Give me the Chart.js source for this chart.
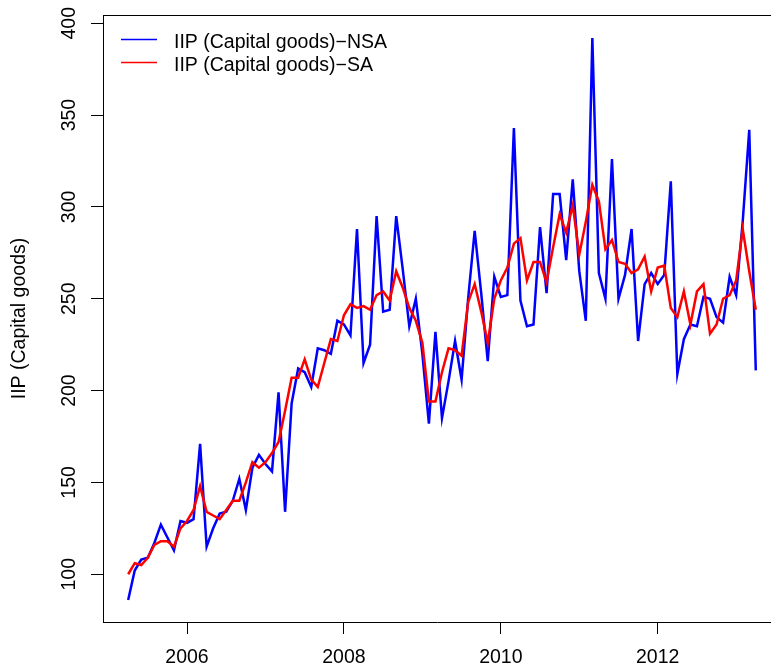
<!DOCTYPE html>
<html>
<head>
<meta charset="utf-8">
<title>IIP (Capital goods)</title>
<script src="https://cdn.jsdelivr.net/npm/chart.js@4.4.1/dist/chart.umd.min.js"></script>
<style>
  html, body { margin: 0; padding: 0; background: #ffffff; overflow: hidden; }
  #wrap { width: 771px; height: 672px; }
</style>
</head>
<body>
<div id="wrap"><canvas id="iipChart" width="771" height="672"></canvas></div>
<script>
// Monthly series, April 2005 .. April 2013
const startYear = 2005
const startMonth = 4

const nsaValues = [
  86, 102, 108, 109, 117, 127, 120, 113, 129, 128, 130, 171,
  115, 125, 133, 134, 140, 152, 135, 158, 165, 160, 156, 199,
  134, 193, 212, 210, 202, 223, 222, 220, 238, 236, 230, 288,
  215, 225, 295, 243, 244, 295, 266, 235, 250, 220, 182, 232,
  185, 205, 227, 206, 250, 287, 253, 216, 262, 251, 252, 343,
  249, 235, 236, 289, 253, 307, 307, 271, 315, 265, 238, 392,
  264, 250, 326, 250, 263, 288, 227, 258, 264, 258, 263, 314,
  209, 228, 236, 235, 251, 250, 240, 237, 262, 252, 292, 342,
  211
]

const saValues = [
  100, 106, 105, 109, 116, 118, 118, 115, 125, 129, 135, 148,
  134, 132, 130, 135, 140, 140, 150, 161, 158, 161, 166, 172,
  189, 207, 207, 217, 206, 202, 215, 228, 227, 241, 247, 245,
  246, 244, 252, 254, 249, 265, 256, 245, 238, 226, 194, 194,
  210, 223, 222, 219, 248, 258, 243, 226, 250, 260, 267, 280,
  283, 260, 270, 270, 259, 278, 296, 286, 301, 274, 292, 312,
  303, 277, 282, 270, 269, 264, 266, 273, 254, 267, 268, 245,
  240, 254, 236, 254, 258, 231, 236, 250, 252, 260, 288, 265,
  244
]

const seriesNames = ["IIP (Capital goods)\u2212NSA", "IIP (Capital goods)\u2212SA"]
const seriesColors = ["#0000ff", "#ff0000"]
const xTicks = [2006, 2008, 2010, 2012]
const yTicks = [100, 150, 200, 250, 300, 350, 400]
const yTitle = "IIP (Capital goods)"

const FONT = "'Liberation Sans', Arial, Helvetica, sans-serif"

// turn a month index into a fractional year, like R's time(ts)
function toPoints(values) {
  return values.map((v, i) => ({ x: startYear + (startMonth - 1 + i) / 12, y: v }))
}

// R style box top + legend in the top-left corner
const boxAndLegend = {
  id: "boxAndLegend",
  afterDraw(chart) {
    const { ctx, chartArea } = chart
    ctx.save()
    ctx.strokeStyle = "#000000"
    ctx.lineWidth = 1
    const top = Math.round(chartArea.top) + 0.5
    ctx.beginPath()
    ctx.moveTo(chartArea.left, top)
    ctx.lineTo(chartArea.right, top)
    ctx.stroke()

    ctx.font = "19.5px " + FONT
    ctx.textBaseline = "alphabetic"
    ctx.textAlign = "left"
    chart.data.datasets.forEach((ds, k) => {
      const y = chartArea.top + 24.5 + k * 23
      ctx.strokeStyle = ds.borderColor
      ctx.lineWidth = 1.3
      ctx.beginPath()
      ctx.moveTo(chartArea.left + 18, y)
      ctx.lineTo(chartArea.left + 54, y)
      ctx.stroke()
      ctx.fillStyle = "#000000"
      ctx.fillText(ds.label, chartArea.left + 71, y + 8)
    })
    ctx.restore()
  }
}

const config = {
  type: "line",
  data: {
    datasets: [
      {
        label: seriesNames[0],
        data: toPoints(nsaValues),
        borderColor: seriesColors[0],
        borderWidth: 2.5,
        pointRadius: 0,
        tension: 0,
        order: 2,
      },
      {
        label: seriesNames[1],
        data: toPoints(saValues),
        borderColor: seriesColors[1],
        borderWidth: 2.5,
        pointRadius: 0,
        tension: 0,
        order: 1,
      },
    ],
  },
  options: {
    responsive: false,
    animation: false,
    layout: { padding: { top: 15, left: 0, right: 0, bottom: 0 } },
    plugins: {
      legend: { display: false },
      tooltip: { enabled: false },
    },
    scales: {
      x: {
        type: "linear",
        min: 2004.929,
        max: 2013.444,
        afterBuildTicks: (scale) => {
          scale.ticks = xTicks.map((v) => ({ value: v }))
        },
        afterFit: (scale) => {
          scale.height = 50
          scale.paddingLeft = 0
          scale.paddingRight = 0
        },
        grid: {
          drawOnChartArea: false,
          drawTicks: true,
          tickLength: 12,
          tickColor: "#000000",
        },
        border: { display: true, color: "#000000", width: 1 },
        ticks: {
          color: "#000000",
          font: { family: FONT, size: 19.5 },
          padding: 12,
          maxRotation: 0,
          autoSkip: false,
          callback: (v) => String(v),
        },
      },
      y: {
        type: "linear",
        min: 74,
        max: 404.5,
        afterBuildTicks: (scale) => {
          scale.ticks = yTicks.map((v) => ({ value: v }))
        },
        afterFit: (scale) => {
          scale.width = 103
          scale.paddingTop = 0
          scale.paddingBottom = 0
        },
        grid: {
          drawOnChartArea: false,
          drawTicks: true,
          tickLength: 12,
          tickColor: "#000000",
        },
        border: { display: true, color: "#000000", width: 1 },
        ticks: {
          color: "#000000",
          font: { family: FONT, size: 19.5 },
          padding: 5,
          minRotation: 90,
          maxRotation: 90,
          crossAlign: "center",
          autoSkip: false,
          callback: (v) => String(v),
        },
        title: {
          display: true,
          text: yTitle,
          color: "#000000",
          font: { family: FONT, size: 19.5 },
          padding: { top: 8, bottom: 0 },
        },
      },
    },
  },
  plugins: [boxAndLegend],
}

const chart = new Chart(document.getElementById("iipChart"), config)
</script>
</body>
</html>
